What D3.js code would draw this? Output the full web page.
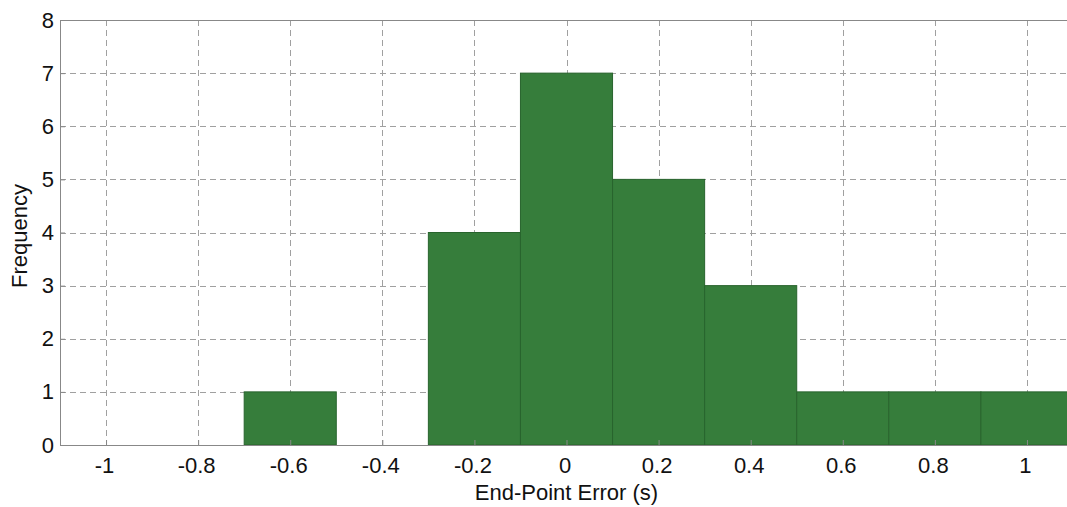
<!DOCTYPE html>
<html>
<head>
<meta charset="utf-8">
<script src="https://cdn.jsdelivr.net/npm/d3@7"></script>
<style>
  html, body { margin: 0; padding: 0; background: #fff; }
  svg { display: block; }
  text { font-family: "Liberation Sans", Arial, sans-serif; fill: #111; }
</style>
</head>
<body>
<svg id="chart" width="1067" height="507"></svg>
<script>
// Histogram bins of end-point error (seconds)
const binStarts = [-0.7, -0.3, -0.1, 0.1, 0.3, 0.5, 0.7, 0.9];
const binEnds   = [-0.5, -0.1,  0.1, 0.3, 0.5, 0.7, 0.9, 1.1];
const counts    = [1, 4, 7, 5, 3, 1, 1, 1];
const xTicks = [-1, -0.8, -0.6, -0.4, -0.2, 0, 0.2, 0.4, 0.6, 0.8, 1];
const yTicks = [0, 1, 2, 3, 4, 5, 6, 7, 8];

const svg = d3.select("#chart");
const plotLeft = 60, plotRight = 1073, plotTop = 20, plotBottom = 445;

const x = d3.scaleLinear().domain([-1.1, 1.1]).range([plotLeft, plotRight]);
const y = d3.scaleLinear().domain([0, 8]).range([plotBottom, plotTop]);

const grid = svg.append("g")
  .attr("stroke", "#a0a0a0").attr("stroke-width", 1)
  .attr("stroke-dasharray", "6,4").attr("fill", "none");
xTicks.forEach(t => {
  grid.append("line")
    .attr("x1", Math.round(x(t)) + 0.5).attr("x2", Math.round(x(t)) + 0.5)
    .attr("y1", plotTop).attr("y2", plotBottom);
});
yTicks.slice(1, -1).forEach(t => {
  grid.append("line")
    .attr("x1", plotLeft).attr("x2", plotRight)
    .attr("y1", Math.round(y(t)) + 0.5).attr("y2", Math.round(y(t)) + 0.5);
});

const bins = counts.map((c, i) => ({ x0: binStarts[i], x1: binEnds[i], n: c }));
svg.append("g").selectAll("rect").data(bins).join("rect")
  .attr("x", d => x(d.x0))
  .attr("width", d => x(d.x1) - x(d.x0))
  .attr("y", d => y(d.n))
  .attr("height", d => y(0) - y(d.n))
  .attr("fill", "#367d3b")
  .attr("stroke", "#28642d")
  .attr("stroke-width", 1);

// Axes (ticks drawn inward)
const xAxis = svg.append("g").attr("transform", `translate(0,${plotBottom})`)
  .call(d3.axisBottom(x).tickValues(xTicks).tickSize(-5).tickPadding(12)
        .tickFormat(d => String(d)));
const yAxis = svg.append("g").attr("transform", `translate(${plotLeft},0)`)
  .call(d3.axisLeft(y).tickValues(yTicks).tickSize(-5).tickPadding(6)
        .tickFormat(d3.format("d")));
[xAxis, yAxis].forEach(g => {
  g.select(".domain").attr("stroke", "#888");
  g.selectAll(".tick line").attr("stroke", "#888");
  g.selectAll("text").attr("font-size", 22).attr("fill", "#111")
    .attr("font-family", "Liberation Sans, Arial, sans-serif");
});
xAxis.selectAll(".tick text").attr("dx", -2);

// Top frame line
svg.append("line").attr("x1", plotLeft).attr("x2", plotRight)
  .attr("y1", plotTop + 0.5).attr("y2", plotTop + 0.5).attr("stroke", "#888");

svg.append("text").attr("x", x(0)).attr("y", 500)
  .attr("text-anchor", "middle").attr("font-size", 22)
  .text("End-Point Error (s)");
svg.append("text").attr("transform", `translate(27,236) rotate(-90)`)
  .attr("text-anchor", "middle").attr("font-size", 22)
  .text("Frequency");
</script>
</body>
</html>
